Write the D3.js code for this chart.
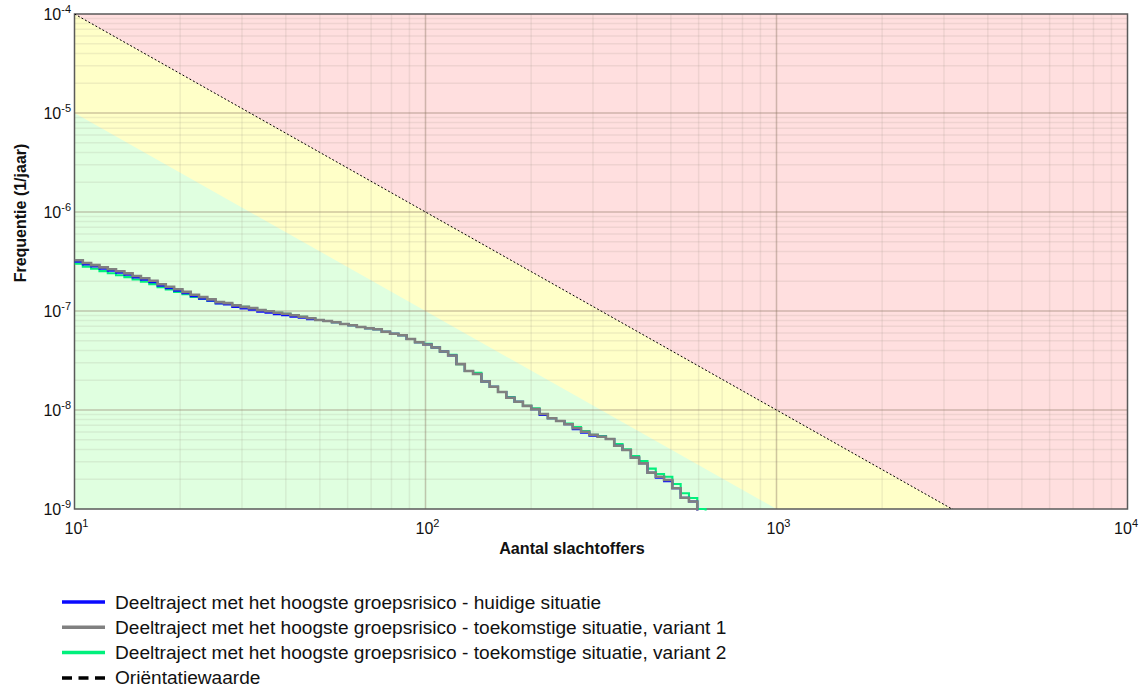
<!DOCTYPE html>
<html><head><meta charset="utf-8">
<script src="https://cdn.jsdelivr.net/npm/d3@7"></script>
<style>
body{margin:0;background:#fff}
svg{display:block}
text{font-family:"Liberation Sans",Arial,sans-serif;fill:#111}
</style>
</head><body>
<svg id="chart" width="1139" height="690"></svg>
<script>
// ---------- data ----------
const xDomain = [10, 10000];
const yDomain = [1e-9, 1e-4];
const xTickValues = [10, 100, 1000, 10000];
const xTickExponents = ["1", "2", "3", "4"];
const yTickValues = [1e-4, 1e-5, 1e-6, 1e-7, 1e-8, 1e-9];
const yTickExponents = ["-4", "-5", "-6", "-7", "-8", "-9"];

// orientation value (upper limit) and lower limit lines
const limitN = [10, 10000];
const orientationF = [1e-4, 1e-10];
const lowerLimitF = [1e-5, 1e-11];

// step edges (number of victims)
const stepN = [10, 10.56, 11.15, 11.78, 12.44, 13.13, 13.87, 14.64, 15.46, 16.33,
  17.24, 18.20, 19.22, 20.30, 21.43, 22.63, 23.90, 25.24, 26.65, 28.14,
  29.72, 31.39, 33.15, 35.00, 36.96, 39.03, 41.22, 43.52, 45.96, 48.53,
  51.25, 54.12, 57.15, 60.35, 63.73, 67.30, 71.07, 75.05, 79.25, 83.69,
  88.37, 93.32, 98.54, 104.1, 109.9, 116.0, 122.5, 129.4, 136.6, 144.3,
  152.4, 160.9, 169.9, 179.4, 189.5, 200.1, 211.3, 223.1, 235.6, 248.8,
  262.7, 277.4, 292.9, 309.3, 326.6, 344.9, 364.2, 384.6, 406.1, 428.9,
  452.9, 478.2, 505.0, 533.3, 563.1, 594.7, 628.0, 663.2];

const blueF = [3.14e-7, 2.95e-7, 2.81e-7, 2.67e-7, 2.55e-7, 2.43e-7, 2.32e-7, 2.18e-7, 2.07e-7, 1.95e-7,
  1.80e-7, 1.70e-7, 1.60e-7, 1.51e-7, 1.41e-7, 1.33e-7, 1.27e-7, 1.19e-7, 1.16e-7, 1.10e-7,
  1.06e-7, 1.03e-7, 9.85e-8, 9.59e-8, 9.28e-8, 9.07e-8, 8.74e-8, 8.56e-8, 8.25e-8, 8.11e-8,
  7.93e-8, 7.69e-8, 7.39e-8, 7.17e-8, 6.89e-8, 6.69e-8, 6.53e-8, 6.18e-8, 5.90e-8, 5.68e-8,
  5.21e-8, 4.83e-8, 4.59e-8, 4.28e-8, 3.90e-8, 3.55e-8, 2.91e-8, 2.48e-8, 2.31e-8, 1.94e-8,
  1.72e-8, 1.52e-8, 1.33e-8, 1.21e-8, 1.10e-8, 1.02e-8, 8.90e-9, 8.25e-9, 7.74e-9, 7.17e-9,
  6.38e-9, 5.90e-9, 5.50e-9, 5.37e-9, 5.09e-9, 4.36e-9, 3.94e-9, 3.30e-9, 2.89e-9, 2.33e-9,
  2.07e-9, 1.91e-9, 1.62e-9, 1.30e-9, 1.19e-9, 1e-10];

const grayF = [3.25e-7, 3.05e-7, 2.91e-7, 2.76e-7, 2.64e-7, 2.52e-7, 2.40e-7, 2.26e-7, 2.14e-7, 2.02e-7,
  1.86e-7, 1.76e-7, 1.66e-7, 1.56e-7, 1.46e-7, 1.38e-7, 1.31e-7, 1.23e-7, 1.20e-7, 1.14e-7,
  1.10e-7, 1.07e-7, 1.02e-7, 9.93e-8, 9.61e-8, 9.39e-8, 9.05e-8, 8.76e-8, 8.44e-8, 8.11e-8,
  7.93e-8, 7.69e-8, 7.39e-8, 7.17e-8, 6.89e-8, 6.69e-8, 6.53e-8, 6.18e-8, 5.90e-8, 5.68e-8,
  5.21e-8, 4.83e-8, 4.59e-8, 4.28e-8, 3.90e-8, 3.55e-8, 2.91e-8, 2.48e-8, 2.31e-8, 1.94e-8,
  1.72e-8, 1.52e-8, 1.33e-8, 1.21e-8, 1.10e-8, 1.02e-8, 9.11e-9, 8.25e-9, 7.74e-9, 7.17e-9,
  6.53e-9, 6.04e-9, 5.63e-9, 5.37e-9, 5.09e-9, 4.36e-9, 3.94e-9, 3.30e-9, 2.89e-9, 2.33e-9,
  2.12e-9, 1.96e-9, 1.62e-9, 1.30e-9, 1.19e-9, 1e-10];

const greenF = [3.01e-7, 2.81e-7, 2.67e-7, 2.53e-7, 2.41e-7, 2.30e-7, 2.20e-7, 2.08e-7, 1.98e-7, 1.87e-7,
  1.74e-7, 1.65e-7, 1.56e-7, 1.48e-7, 1.39e-7, 1.33e-7, 1.27e-7, 1.20e-7, 1.18e-7, 1.13e-7,
  1.10e-7, 1.07e-7, 1.02e-7, 9.93e-8, 9.61e-8, 9.39e-8, 9.05e-8, 8.76e-8, 8.44e-8, 8.11e-8,
  7.93e-8, 7.69e-8, 7.39e-8, 7.17e-8, 6.89e-8, 6.69e-8, 6.53e-8, 6.18e-8, 5.90e-8, 5.68e-8,
  5.21e-8, 4.83e-8, 4.65e-8, 4.28e-8, 3.90e-8, 3.61e-8, 2.91e-8, 2.48e-8, 2.37e-8, 1.94e-8,
  1.72e-8, 1.52e-8, 1.35e-8, 1.21e-8, 1.10e-8, 1.04e-8, 9.11e-9, 8.25e-9, 7.74e-9, 7.29e-9,
  6.73e-9, 6.14e-9, 5.63e-9, 5.46e-9, 5.09e-9, 4.53e-9, 4.00e-9, 3.43e-9, 3.05e-9, 2.56e-9,
  2.26e-9, 2.12e-9, 1.79e-9, 1.44e-9, 1.29e-9, 1.0e-9, 1e-10];

const seriesNames = [
  "Deeltraject met het hoogste groepsrisico - huidige situatie",
  "Deeltraject met het hoogste groepsrisico - toekomstige situatie, variant 1",
  "Deeltraject met het hoogste groepsrisico - toekomstige situatie, variant 2",
  "Oriëntatiewaarde"
];
const seriesColors = ["#0a0aff", "#808080", "#00f07c", "#000000"];

// ---------- chart ----------
const svg = d3.select("#chart");
svg.append("rect").attr("width", 1139).attr("height", 690).attr("fill", "#fff");

const pLeft = 74.5, pRight = 1127.5, pTop = 14, pBottom = 509;
const x = d3.scaleLog().domain(xDomain).range([pLeft, pRight]);
const y = d3.scaleLog().domain(yDomain).range([pBottom, pTop]);

const defs = svg.append("defs");
defs.append("clipPath").attr("id", "plotclip").append("rect")
  .attr("x", pLeft).attr("y", pTop).attr("width", pRight - pLeft).attr("height", pBottom - pTop + 1.5);
defs.append("clipPath").attr("id", "bgclip").append("rect")
  .attr("x", pLeft).attr("y", pTop).attr("width", pRight - pLeft).attr("height", pBottom - pTop);

const bg = svg.append("g").attr("clip-path", "url(#bgclip)");
bg.append("rect").attr("x", pLeft).attr("y", pTop).attr("width", pRight - pLeft).attr("height", pBottom - pTop)
  .attr("fill", "#e0ffe0");
bg.append("path").attr("fill", "#ffffc8").attr("d",
  "M" + x(limitN[0]) + "," + y(lowerLimitF[0]) +
  "L" + x(limitN[1]) + "," + y(lowerLimitF[1]) +
  "L" + x(limitN[1]) + "," + (pTop - 5) +
  "L" + x(limitN[0]) + "," + (pTop - 5) + "Z");
bg.append("path").attr("fill", "#ffdfdf").attr("d",
  "M" + x(limitN[0]) + "," + y(orientationF[0]) +
  "L" + x(limitN[1]) + "," + y(orientationF[1]) +
  "L" + x(limitN[1]) + "," + (pTop - 5) +
  "L" + x(limitN[0]) + "," + (pTop - 5) + "Z");

// grid
const grid = svg.append("g");
const xMinor = x.ticks().filter(v => !xTickValues.some(t => Math.abs(t - v) / t < 1e-6));
const yMinor = y.ticks().filter(v => !yTickValues.some(t => Math.abs(t - v) / t < 1e-6));
const minorCol = "rgba(150,140,130,0.15)", majorCol = "rgba(140,120,100,0.42)";
grid.selectAll(".vx").data(xMinor).join("line")
  .attr("x1", d => x(d)).attr("x2", d => x(d)).attr("y1", pTop).attr("y2", pBottom)
  .attr("stroke", minorCol).attr("stroke-width", 1.5);
grid.selectAll(".hy").data(yMinor).join("line")
  .attr("y1", d => y(d)).attr("y2", d => y(d)).attr("x1", pLeft).attr("x2", pRight)
  .attr("stroke", minorCol).attr("stroke-width", 1.5);
grid.selectAll(".vX").data(xTickValues.slice(1, 3)).join("line")
  .attr("x1", d => x(d)).attr("x2", d => x(d)).attr("y1", pTop).attr("y2", pBottom)
  .attr("stroke", majorCol).attr("stroke-width", 1.5);
grid.selectAll(".hY").data(yTickValues.slice(1, 5)).join("line")
  .attr("y1", d => y(d)).attr("y2", d => y(d)).attr("x1", pLeft).attr("x2", pRight)
  .attr("stroke", majorCol).attr("stroke-width", 1.5);

// frame
svg.append("rect").attr("x", pLeft).attr("y", pTop).attr("width", pRight - pLeft).attr("height", pBottom - pTop)
  .attr("fill", "none").attr("stroke", "#5a5a5a").attr("stroke-width", 1.5);

// orientation line
svg.append("g").attr("clip-path", "url(#bgclip)").append("path")
  .datum(limitN.map((n, i) => [n, orientationF[i]]))
  .attr("d", d3.line().x(d => x(d[0])).y(d => y(d[1])))
  .attr("fill", "none").attr("stroke", "#000").attr("stroke-width", 1).attr("stroke-dasharray", "2,2");

// step lines
const lineGen = d3.line().x(d => x(d[0])).y(d => y(d[1])).curve(d3.curveStepAfter);
function stepPoints(vals) {
  const pts = vals.map((v, i) => [stepN[i], v]);
  pts.push([stepN[vals.length], vals[vals.length - 1]]);
  return pts;
}
const lines = svg.append("g").attr("clip-path", "url(#plotclip)");
[[greenF, seriesColors[2], 2.1], [blueF, seriesColors[0], 2.0], [grayF, seriesColors[1], 2.6]].forEach(([vals, col, w]) => {
  lines.append("path").datum(stepPoints(vals)).attr("d", lineGen)
    .attr("fill", "none").attr("stroke", col).attr("stroke-width", w);
});

// tick labels
const xl = svg.append("g");
xTickValues.forEach((v, i) => {
  const last = i === xTickValues.length - 1;
  const t = xl.append("text").attr("x", last ? 1138 : x(v) + 2).attr("y", 534)
    .attr("text-anchor", last ? "end" : "middle").attr("font-size", 16);
  t.append("tspan").text("10");
  t.append("tspan").attr("dy", -7).attr("font-size", 11).text(xTickExponents[i]);
});
const yl = svg.append("g");
yTickValues.forEach((v, i) => {
  const t = yl.append("text").attr("x", 71).attr("y", y(v) + 6).attr("text-anchor", "end")
    .attr("font-size", 16);
  t.append("tspan").text("10");
  t.append("tspan").attr("dy", -7).attr("font-size", 11).text(yTickExponents[i]);
});

// axis titles
svg.append("text").attr("x", 572).attr("y", 554).attr("text-anchor", "middle")
  .attr("font-size", 16.2).attr("font-weight", "bold").text("Aantal slachtoffers");
svg.append("text").attr("transform", "translate(25.5,213) rotate(-90)").attr("text-anchor", "middle")
  .attr("font-size", 16).attr("font-weight", "bold").text("Frequentie (1/jaar)");

// legend
const lg = svg.append("g");
seriesNames.forEach((name, i) => {
  const yy = 602 + i * 25.3;
  lg.append("line").attr("x1", 62).attr("x2", 105).attr("y1", yy).attr("y2", yy)
    .attr("stroke", seriesColors[i]).attr("stroke-width", 3.5)
    .attr("stroke-dasharray", i === 3 ? "10,6.5" : null);
  lg.append("text").attr("x", 115).attr("y", yy + 6.5).attr("font-size", 19.1).text(name);
});
</script>
</body></html>
